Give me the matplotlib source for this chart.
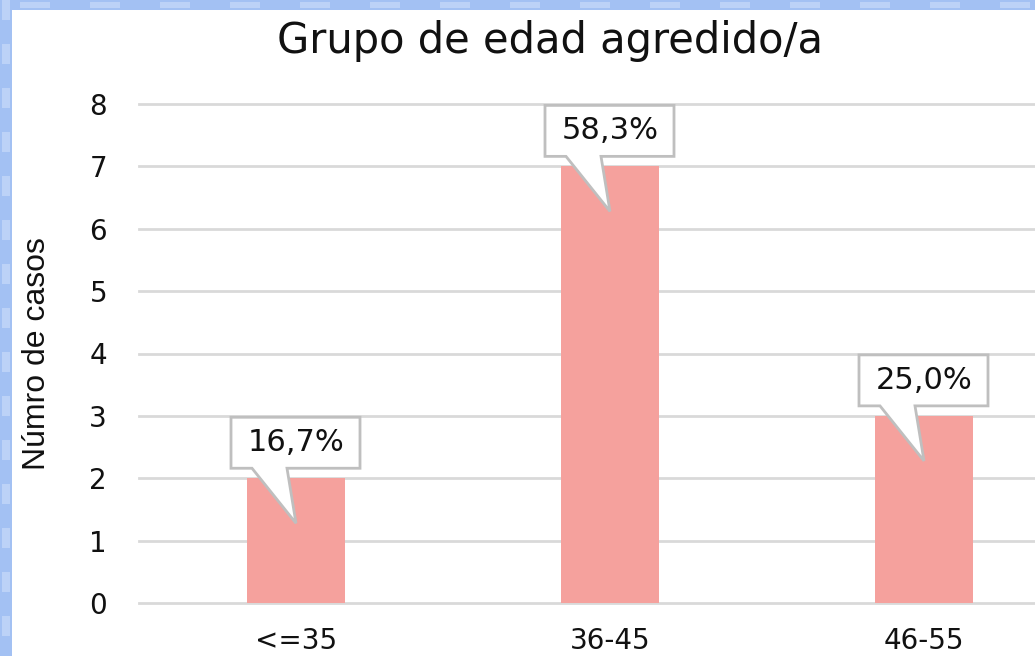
import numpy as np
import matplotlib
matplotlib.use("Agg")
import matplotlib.pyplot as plt
import matplotlib.transforms as mtransforms
from matplotlib.patches import Polygon, Rectangle

categorias = ["<=35", "36-45", "46-55"]
casos = [2, 7, 3]
porcentajes = ["16,7%", "58,3%", "25,0%"]
titulo = "Grupo de edad agredido/a"
ylab = "Númro de casos"

W, H = 1035, 656
fig = plt.figure(figsize=(W/100., H/100.), dpi=100)
fig.patch.set_facecolor("#a3c1f3")

# white page area, blue frame on left and top
fig.patches.append(Rectangle((12./W, 0), 1, (H-10.)/H, transform=fig.transFigure,
                             facecolor="white", edgecolor="none", zorder=-2))
for yy in range(20, H, 44):
    fig.patches.append(Rectangle((2./W, (H-yy)/float(H)), 8./W, 20./H, transform=fig.transFigure,
                                 facecolor="#bcd2f7", edgecolor="none", zorder=-1))
for xx in range(20, W, 70):
    fig.patches.append(Rectangle((xx/float(W), (H-8.)/H), 30./W, 6./H, transform=fig.transFigure,
                                 facecolor="#bcd2f7", edgecolor="none", zorder=-1))

ax = fig.add_axes([139./W, 53./H, 896./W, 499./H])
ax.set_facecolor("none")
x = np.arange(len(categorias))
ax.bar(x, casos, width=0.315, color="#f5a19d", zorder=2)

ax.set_xlim(-0.5, -0.5 + 896/314.)
ax.set_ylim(0, 8)
ax.set_yticks(range(0, 9))
ax.set_xticks(x)
ax.set_xticklabels(categorias)
for s in ax.spines.values():
    s.set_visible(False)
ax.yaxis.grid(True, color="#d9d9d9", linewidth=2, zorder=0)
ax.set_axisbelow(True)
for gl in ax.get_ygridlines():
    gl.set_clip_on(False)
ax.tick_params(axis="both", length=0, labelsize=20, labelcolor="#111111")
ax.tick_params(axis="y", pad=23)
ax.tick_params(axis="x", pad=17)
for t in ax.get_xticklabels() + ax.get_yticklabels():
    t.set_fontfamily("DejaVu Sans")

ax.set_ylabel(ylab, fontsize=23, family="Liberation Sans", color="#111111")
ax.yaxis.set_label_coords(-0.097, 0.5)

fig.text(550./W, 1 - 41./H, titulo, ha="center", va="center", fontsize=30,
         family="DejaVu Sans", color="#111111")

# callouts (shape in pixels at 100 dpi, relative to bar top)
forma = [(-65, 10), (-44, 10), (0, -45), (-9, 10), (64, 10), (64, 61), (-65, 61)]
for xi, h, lab in zip(x, casos, porcentajes):
    tr = mtransforms.Affine2D().scale(fig.dpi/100.) + mtransforms.ScaledTranslation(xi, h, ax.transData)
    p = Polygon(forma, closed=True, transform=tr, facecolor="white", edgecolor="#bfbfbf",
                linewidth=2, zorder=5, clip_on=False)
    ax.add_patch(p)
    ax.annotate(lab, xy=(xi, h), xytext=(0, 35.5*fig.dpi/100.), textcoords="offset pixels",
                ha="center", va="center", fontsize=22, family="DejaVu Sans", color="#111111",
                zorder=6, annotation_clip=False)

fig.savefig("out.png", dpi=100)
